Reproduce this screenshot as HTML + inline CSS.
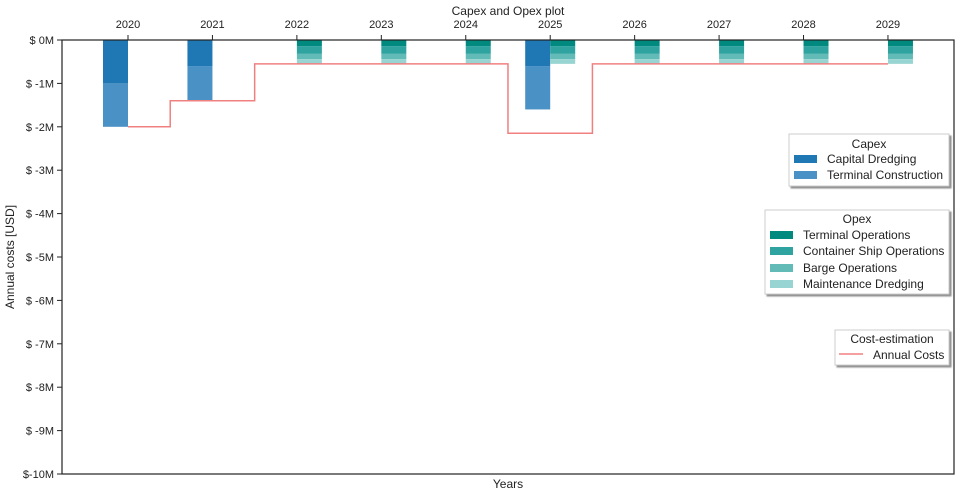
<!DOCTYPE html>
<html><head><meta charset="utf-8"><style>
body{margin:0;background:#fff;font-family:"Liberation Sans",sans-serif;}
svg text{font-family:"Liberation Sans",sans-serif;fill:#222;}
</style></head><body>
<svg id="chart" width="961" height="496" xmlns="http://www.w3.org/2000/svg">
<defs><filter id="sh" x="-10%" y="-10%" width="130%" height="130%"><feDropShadow dx="2" dy="2" stdDeviation="0.8" flood-color="#000" flood-opacity="0.45"/></filter></defs>
<g id="marks"></g>
<g id="axes"></g>
<text x="508" y="15" text-anchor="middle" font-size="12">Capex and Opex plot</text>
<text x="508" y="488" text-anchor="middle" font-size="12">Years</text>
<text transform="translate(14,257) rotate(-90)" text-anchor="middle" font-size="12">Annual costs [USD]</text>
<g>
<rect x="789" y="134" width="160" height="52" fill="#fff" stroke="#ccc" filter="url(#sh)"/>
<text x="869" y="148" text-anchor="middle" font-size="12">Capex</text>
<rect x="794" y="155" width="23" height="8" fill="#1f77b4"/><text x="827" y="163" font-size="12">Capital Dredging</text>
<rect x="794" y="171" width="23" height="8" fill="#4a91c5"/><text x="827" y="179" font-size="12">Terminal Construction</text>
</g>
<g>
<rect x="765" y="210" width="184" height="84" fill="#fff" stroke="#ccc" filter="url(#sh)"/>
<text x="857" y="223" text-anchor="middle" font-size="12">Opex</text>
<rect x="770" y="231" width="23" height="8" fill="#00897f"/><text x="803" y="239" font-size="12">Terminal Operations</text>
<rect x="770" y="247" width="23" height="8" fill="#2ea39f"/><text x="803" y="255" font-size="12">Container Ship Operations</text>
<rect x="770" y="264" width="23" height="8" fill="#63bbb8"/><text x="803" y="272" font-size="12">Barge Operations</text>
<rect x="770" y="280" width="23" height="8" fill="#98d4d1"/><text x="803" y="288" font-size="12">Maintenance Dredging</text>
</g>
<g>
<rect x="835" y="330" width="114" height="35" fill="#fff" stroke="#ccc" filter="url(#sh)"/>
<text x="892" y="343" text-anchor="middle" font-size="12">Cost-estimation</text>
<line x1="839" y1="354" x2="863" y2="354" stroke="#f08080" stroke-width="1.5"/><text x="873" y="359" font-size="12">Annual Costs</text>
</g>
</svg>
<script>
const years=[2020,2021,2022,2023,2024,2025,2026,2027,2028,2029];
const capitalDredging=[1.0,0.6,0,0,0,0.6,0,0,0,0];
const terminalConstruction=[1.0,0.8,0,0,0,1.0,0,0,0,0];
const terminalOps=[0,0,0.14,0.14,0.14,0.14,0.14,0.14,0.14,0.14];
const containerOps=[0,0,0.18,0.18,0.18,0.18,0.18,0.18,0.18,0.18];
const bargeOps=[0,0,0.12,0.12,0.12,0.12,0.12,0.12,0.12,0.12];
const maintDredging=[0,0,0.11,0.11,0.11,0.11,0.11,0.11,0.11,0.11];
const yTicks=[0,-1,-2,-3,-4,-5,-6,-7,-8,-9,-10];
const yTickLabels=["$ 0M","$ -1M","$ -2M","$ -3M","$ -4M","$ -5M","$ -6M","$ -7M","$ -8M","$ -9M","$-10M"];
const NS="http://www.w3.org/2000/svg";
const L=62,R=954,T=40,B=474;
const x=i=>128+i*84.44;
const y=v=>T+(-v)/10*(B-T);
const marks=document.getElementById('marks'),axes=document.getElementById('axes');
function mk(p,tag,a){const e=document.createElementNS(NS,tag);for(const k in a)e.setAttribute(k,a[k]);p.appendChild(e);return e;}
const W=25;
years.forEach((yr,i)=>{
  let c=0;
  [[capitalDredging,'#1f77b4','capital-dredging'],[terminalConstruction,'#4a91c5','terminal-construction']].forEach(([arr,col,nm])=>{
    if(arr[i]>0){const r=mk(marks,'rect',{x:x(i)-W,y:y(-c),width:W,height:y(-(c+arr[i]))-y(-c),fill:col});
    
    }
    c+=arr[i];
  });
  let o=0;
  [[terminalOps,'#00897f','terminal-operations'],[containerOps,'#2ea39f','container-ship-operations'],[bargeOps,'#63bbb8','barge-operations'],[maintDredging,'#98d4d1','maintenance-dredging']].forEach(([arr,col,nm])=>{
    if(arr[i]>0){const r=mk(marks,'rect',{x:x(i),y:y(-o),width:W,height:y(-(o+arr[i]))-y(-o),fill:col});
    
    }
    o+=arr[i];
  });
});
const tot=years.map((_,i)=>capitalDredging[i]+terminalConstruction[i]+terminalOps[i]+containerOps[i]+bargeOps[i]+maintDredging[i]);
let d='';
tot.forEach((t,i)=>{
  const x0=i===0?x(0):(x(i-1)+x(i))/2, x1=i===tot.length-1?x(i):(x(i)+x(i+1))/2;
  d+=(i===0?'M':'L')+x0+','+y(-t)+' L'+x1+','+y(-t)+' ';
});
const ln=mk(marks,'path',{d:d,fill:'none',stroke:'#f08080','stroke-width':1.5});


const fr=mk(axes,'rect',{x:L,y:T,width:R-L,height:B-T,fill:'none',stroke:'#222','stroke-width':1.2});


yTicks.forEach((v,i)=>{
  mk(axes,'line',{x1:L-5,x2:L,y1:y(v),y2:y(v),stroke:'#222'});
  const t=mk(axes,'text',{x:L-8,y:y(v)+4,'text-anchor':'end','font-size':11});
  t.textContent=yTickLabels[i];
  
  
});
years.forEach((yr,i)=>{
  mk(axes,'line',{x1:x(i),x2:x(i),y1:T-5,y2:T,stroke:'#222'});
  const t=mk(axes,'text',{x:x(i),y:T-12,'text-anchor':'middle','font-size':11});
  t.textContent=yr;
  
  
});
</script>
</body></html>
